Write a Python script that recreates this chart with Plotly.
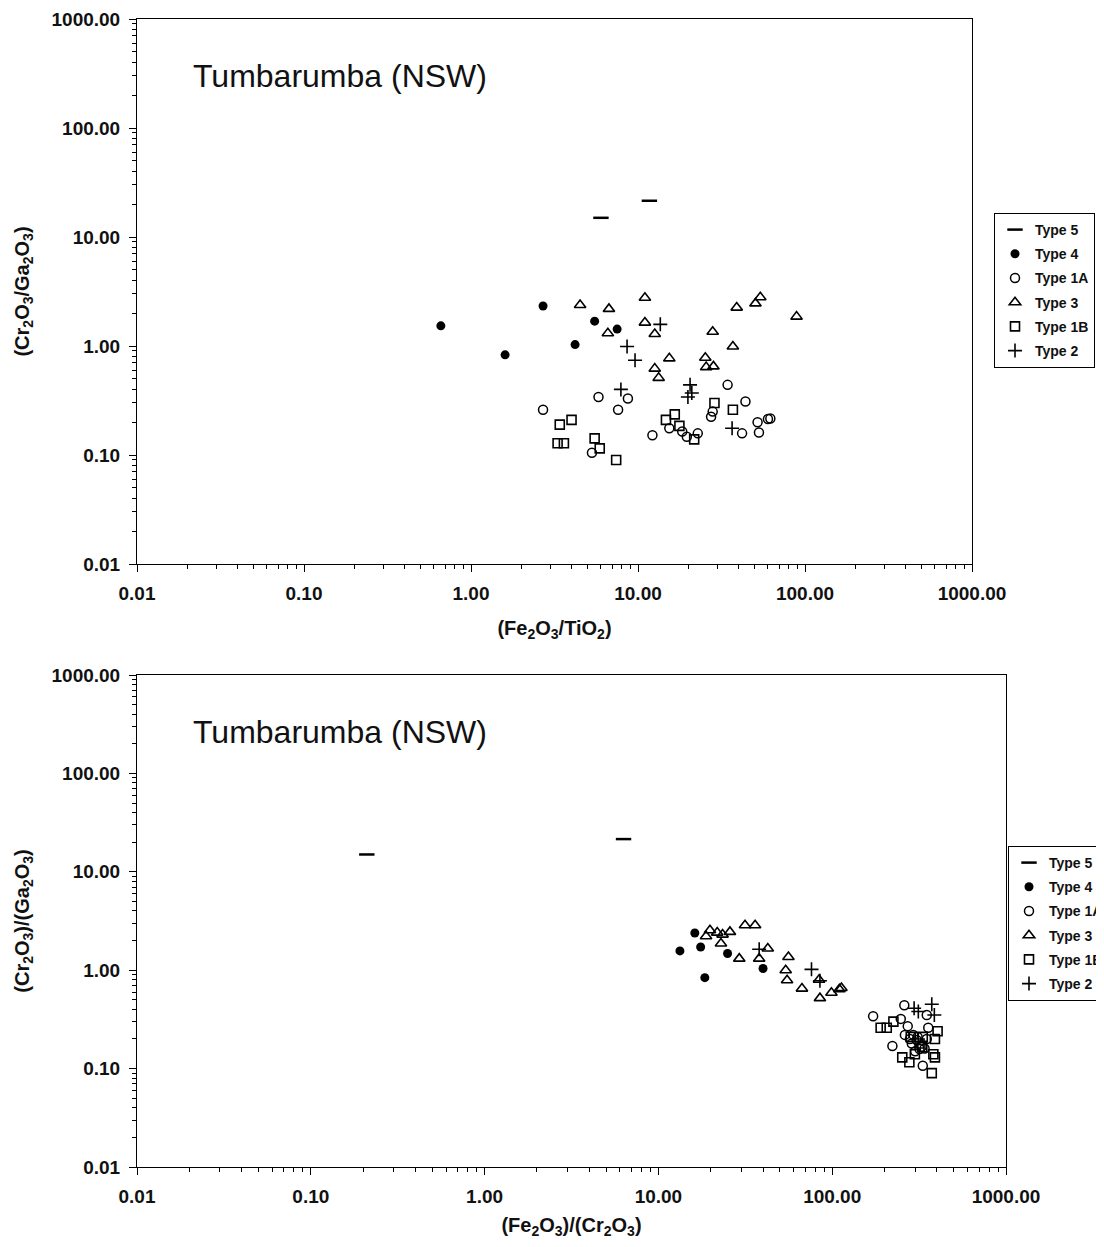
import plotly.graph_objects as go

# ---- data ----
tick_vals = [0.01, 0.1, 1, 10, 100, 1000]
tick_text = ["0.01", "0.10", "1.00", "10.00", "100.00", "1000.00"]

type_names = ["Type 5", "Type 4", "Type 1A", "Type 3", "Type 1B", "Type 2"]

# top plot: Fe2O3/TiO2 vs Cr2O3/Ga2O3
type5_x1 = [6.0, 11.7]
type5_y1 = [15.0, 21.5]
type4_x1 = [0.66, 1.6, 2.7, 4.2, 5.5, 7.5]
type4_y1 = [1.53, 0.83, 2.33, 1.03, 1.69, 1.43]
type1a_x1 = [2.7, 5.8, 8.7, 7.6, 12.2, 5.3, 34.4, 44, 28, 27.4, 15.4, 18.4, 19.6, 22.8, 42, 53, 52, 60, 62]
type1a_y1 = [0.26, 0.34, 0.33, 0.26, 0.152, 0.105, 0.44, 0.31, 0.25, 0.224, 0.176, 0.164, 0.147, 0.158,
             0.158, 0.161, 0.20, 0.214, 0.216]
type3_x1 = [4.5, 6.7, 11, 39, 50.5, 54, 89, 11, 6.6, 12.6, 28, 37, 15.4, 25.3, 25.6, 28.3, 12.6, 13.3]
type3_y1 = [2.38, 2.19, 2.77, 2.25, 2.46, 2.8, 1.86, 1.64, 1.31, 1.29, 1.35, 0.99, 0.77, 0.78, 0.64, 0.65,
            0.62, 0.51]
type1b_x1 = [3.4, 4.0, 3.3, 3.6, 5.5, 5.9, 7.4, 14.7, 16.6, 17.7, 21.7, 28.7, 37]
type1b_y1 = [0.19, 0.21, 0.128, 0.128, 0.142, 0.115, 0.09, 0.21, 0.236, 0.185, 0.139, 0.30, 0.26]
type2_x1 = [13.6, 8.6, 9.6, 7.9, 20.5, 21, 19.9, 36.6]
type2_y1 = [1.58, 0.99, 0.74, 0.40, 0.44, 0.37, 0.34, 0.176]

# bottom plot: Fe2O3/Cr2O3 vs Cr2O3/Ga2O3
type5_x2 = [0.21, 6.3]
type5_y2 = [15.0, 21.5]
type4_x2 = [13.3, 16.2, 17.5, 25, 18.5, 40]
type4_y2 = [1.57, 2.39, 1.72, 1.48, 0.84, 1.04]
type1a_x2 = [172, 260, 350, 248, 272, 357, 262, 293, 222, 332, 327, 306, 287, 300, 318, 340, 280, 310, 350]
type1a_y2 = [0.34, 0.44, 0.35, 0.32, 0.27, 0.26, 0.22, 0.22, 0.17, 0.107, 0.167, 0.195, 0.18, 0.15,
             0.158, 0.16, 0.20, 0.21, 0.20]
type3_x2 = [18.8, 19.8, 21.8, 23.4, 25.8, 22.9, 31.5, 36, 29.2, 38, 42.6, 56, 54, 55, 67, 84, 85, 99, 110, 113]
type3_y2 = [2.21, 2.55, 2.41, 2.30, 2.45, 1.87, 2.86, 2.86, 1.31, 1.31, 1.66, 1.36, 1.0, 0.79, 0.65, 0.80,
            0.52, 0.59, 0.64, 0.66]
type1b_x2 = [190, 206, 225, 404, 390, 332, 283, 253, 278, 299, 382, 390, 374, 318, 330]
type1b_y2 = [0.26, 0.26, 0.30, 0.24, 0.20, 0.21, 0.21, 0.13, 0.116, 0.14, 0.14, 0.13, 0.09, 0.18, 0.165]
type2_x2 = [38, 76, 85, 374, 296, 313, 387]
type2_y2 = [1.63, 1.02, 0.78, 0.45, 0.41, 0.38, 0.35]

# ---- styling ----
FONT = "Liberation Sans"
markers = {
    "Type 5": dict(symbol="line-ew", size=11, line=dict(width=2.5, color="black")),
    "Type 4": dict(symbol="circle", size=9, color="black"),
    "Type 1A": dict(symbol="circle-open", size=9, color="black", line=dict(width=1.5)),
    "Type 3": dict(symbol="triangle-up-open", size=10, color="black", line=dict(width=1.6)),
    "Type 1B": dict(symbol="square-open", size=9, color="black", line=dict(width=1.6)),
    "Type 2": dict(symbol="cross-thin", size=10, line=dict(width=1.6, color="black")),
}

top = {"Type 5": (type5_x1, type5_y1), "Type 4": (type4_x1, type4_y1), "Type 1A": (type1a_x1, type1a_y1),
       "Type 3": (type3_x1, type3_y1), "Type 1B": (type1b_x1, type1b_y1), "Type 2": (type2_x1, type2_y1)}
bottom = {"Type 5": (type5_x2, type5_y2), "Type 4": (type4_x2, type4_y2), "Type 1A": (type1a_x2, type1a_y2),
          "Type 3": (type3_x2, type3_y2), "Type 1B": (type1b_x2, type1b_y2), "Type 2": (type2_x2, type2_y2)}

fig = go.Figure()
for name in type_names:
    x, y = top[name]
    fig.add_trace(go.Scatter(x=x, y=y, mode="markers", name=name, marker=markers[name],
                             xaxis="x", yaxis="y", legend="legend", legendgroup="a" + name))
for name in type_names:
    x, y = bottom[name]
    fig.add_trace(go.Scatter(x=x, y=y, mode="markers", name=name, marker=markers[name],
                             xaxis="x2", yaxis="y2", legend="legend2", legendgroup="b" + name))

minor_vals = [m * 10 ** e for e in range(-2, 3) for m in range(2, 10)]

# the page body has an 8px margin; size the figure so the page does not scroll
OFF = 8
W, H = 1104 - OFF, 1247 - 2 * OFF


def px(x):  # page pixel -> paper x
    return (x - OFF) / W


def py(y):  # page pixel -> paper y
    return 1 - (y - OFF) / H


def log_axis(domain, anchor, title, standoff):
    return dict(
        type="log", range=[-2, 3], domain=domain, anchor=anchor, automargin=False,
        tickmode="array", tickvals=tick_vals, ticktext=tick_text,
        ticks="outside", ticklen=7, tickwidth=1, tickcolor="black",
        ticklabelstandoff=5,
        tickfont=dict(family=FONT, size=19, color="#111", weight="bold"),
        minor=dict(tickmode="array", tickvals=minor_vals, ticks="outside", ticklen=4,
                   tickcolor="black", showgrid=False),
        showline=True, linecolor="black", linewidth=1, mirror=True,
        showgrid=False, zeroline=False,
        title=dict(text=title, standoff=standoff,
                   font=dict(family=FONT, size=20, color="#111", weight="bold")),
    )


legend_style = dict(font=dict(family=FONT, size=14, color="#111", weight="bold"),
                    bordercolor="black", borderwidth=1, bgcolor="white",
                    itemwidth=30, tracegroupgap=3, traceorder="grouped",
                    xanchor="left", yanchor="top")

fig.update_layout(
    width=W, height=H,
    margin=dict(l=0, r=0, t=0, b=0, autoexpand=False),
    paper_bgcolor="white", plot_bgcolor="white",
    showlegend=True,
    xaxis=log_axis([px(137), px(972)], "y", "(Fe<sub>2</sub>O<sub>3</sub>/TiO<sub>2</sub>)", 18),
    yaxis=log_axis([py(564), py(19)], "x",
                   "(Cr<sub>2</sub>O<sub>3</sub>/Ga<sub>2</sub>O<sub>3</sub>)", 16),
    xaxis2=log_axis([px(137), px(1006)], "y2",
                    "(Fe<sub>2</sub>O<sub>3</sub>)/(Cr<sub>2</sub>O<sub>3</sub>)", 14),
    yaxis2=log_axis([py(1167), py(675)], "x2",
                    "(Cr<sub>2</sub>O<sub>3</sub>)/(Ga<sub>2</sub>O<sub>3</sub>)", 16),
    legend=dict(x=px(994), y=py(213), **legend_style),
    legend2=dict(x=px(1008), y=py(846), **legend_style),
    annotations=[
        dict(text="Tumbarumba (NSW)", xref="paper", yref="paper", x=px(191), y=py(76),
             xanchor="left", yanchor="middle", showarrow=False,
             font=dict(family=FONT, size=32, color="#111")),
        dict(text="Tumbarumba (NSW)", xref="paper", yref="paper", x=px(191), y=py(732),
             xanchor="left", yanchor="middle", showarrow=False,
             font=dict(family=FONT, size=32, color="#111")),
    ],
)

fig.write_html("out.html")
